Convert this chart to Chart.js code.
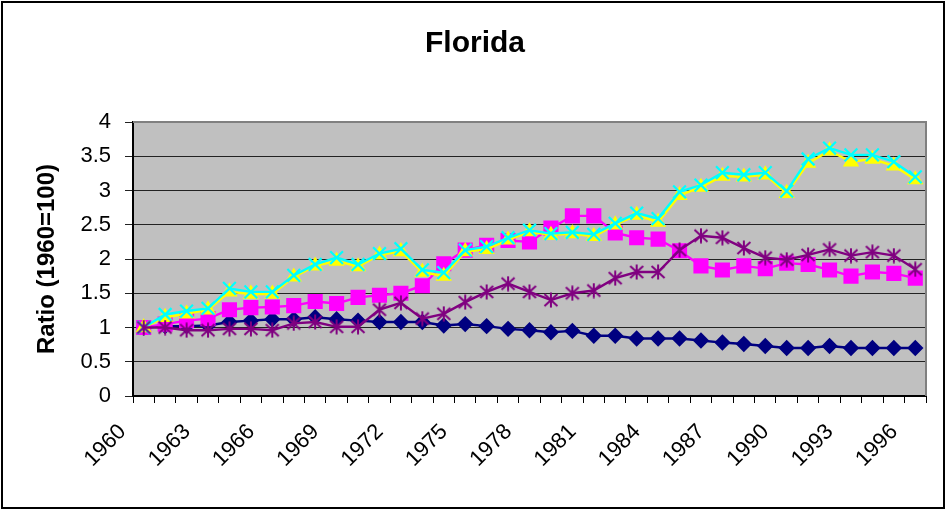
<!DOCTYPE html>
<html>
<head>
<meta charset="utf-8">
<title>Florida</title>
<script src="https://cdn.jsdelivr.net/npm/chart.js@4"></script>
<style>
    body { margin: 0; background: #fff; }
    #wrap { width: 946px; height: 510px; }
</style>
</head>
<body>
<div id="wrap"><canvas id="floridaChart" width="946" height="510"></canvas></div>
<script>
// Florida ratio chart (1960 = 1)

const years = ['1960', '1961', '1962', '1963', '1964', '1965', '1966', '1967', '1968', '1969',
    '1970', '1971', '1972', '1973', '1974', '1975', '1976', '1977', '1978', '1979',
    '1980', '1981', '1982', '1983', '1984', '1985', '1986', '1987', '1988', '1989',
    '1990', '1991', '1992', '1993', '1994', '1995', '1996'];

const xTickLabels = ['1960', '1963', '1966', '1969', '1972', '1975', '1978',
    '1981', '1984', '1987', '1990', '1993', '1996'];

const navySeries = [1.00, 1.02, 1.02, 1.03, 1.08, 1.10, 1.12, 1.12, 1.15, 1.12,
    1.10, 1.08, 1.08, 1.08, 1.03, 1.05, 1.02, 0.98, 0.96, 0.93,
    0.95, 0.88, 0.88, 0.84, 0.84, 0.84, 0.81, 0.78, 0.76, 0.73,
    0.70, 0.70, 0.73, 0.70, 0.70, 0.70, 0.70];

const magentaSeries = [1.00, 1.05, 1.10, 1.13, 1.26, 1.29, 1.30, 1.32, 1.38, 1.35,
    1.44, 1.47, 1.50, 1.61, 1.93, 2.13, 2.20, 2.27, 2.25, 2.45,
    2.63, 2.63, 2.38, 2.31, 2.29, 2.12, 1.90, 1.84, 1.90, 1.86,
    1.94, 1.92, 1.84, 1.75, 1.81, 1.79, 1.72];

const yellowSeries = [1.00, 1.15, 1.20, 1.26, 1.52, 1.49, 1.49, 1.74, 1.90, 1.97,
    1.89, 2.06, 2.11, 1.81, 1.75, 2.11, 2.14, 2.28, 2.40, 2.35,
    2.37, 2.33, 2.50, 2.64, 2.54, 2.93, 3.05, 3.21, 3.20, 3.23,
    2.96, 3.40, 3.58, 3.42, 3.46, 3.36, 3.16];

const cyanSeries = [1.00, 1.19, 1.24, 1.28, 1.57, 1.52, 1.52, 1.76, 1.92, 2.02,
    1.92, 2.08, 2.15, 1.84, 1.80, 2.13, 2.18, 2.31, 2.42, 2.37,
    2.39, 2.36, 2.52, 2.67, 2.59, 2.98, 3.08, 3.26, 3.23, 3.26,
    2.99, 3.46, 3.62, 3.52, 3.52, 3.42, 3.20];

const purpleSeries = [1.00, 1.00, 0.96, 0.96, 0.98, 0.98, 0.96, 1.06, 1.08, 1.01,
    1.01, 1.26, 1.36, 1.13, 1.20, 1.37, 1.52, 1.64, 1.52, 1.40,
    1.50, 1.54, 1.72, 1.81, 1.81, 2.13, 2.34, 2.31, 2.16, 2.02,
    1.99, 2.06, 2.14, 2.05, 2.10, 2.05, 1.85];

const chartTitle = 'Florida';
const FONT = "'Liberation Sans', Arial, sans-serif";

document.addEventListener('DOMContentLoaded', () => {
    drawChart();
});

// Excel style star marker: an X with a vertical bar
function makeStarMarker(color) {
    const c = document.createElement('canvas');
    c.width = 16;
    c.height = 16;
    const ctx = c.getContext('2d');
    ctx.strokeStyle = color;
    ctx.lineWidth = 2;
    ctx.beginPath();
    ctx.moveTo(1.5, 2); ctx.lineTo(14.5, 14);
    ctx.moveTo(14.5, 2); ctx.lineTo(1.5, 14);
    ctx.moveTo(8, 0.5); ctx.lineTo(8, 15.5);
    ctx.stroke();
    return c;
}

// grey plot background, outer frame, grey top/right edge of plot, title
const framePlugin = {
    id: 'framePlugin',
    beforeDraw(chart) {
        const { ctx, chartArea: a } = chart;
        ctx.save();
        ctx.fillStyle = '#ffffff';
        ctx.fillRect(0, 0, chart.width, chart.height);
        ctx.fillStyle = '#c0c0c0';
        ctx.fillRect(a.left, a.top, a.right - a.left, a.bottom - a.top);
        ctx.strokeStyle = '#000000';
        ctx.lineWidth = 2;
        ctx.strokeRect(2, 2, chart.width - 4, chart.height - 4);

        ctx.fillStyle = '#000';
        ctx.font = 'bold 30px ' + FONT;
        ctx.textAlign = 'center';
        ctx.textBaseline = 'alphabetic';
        ctx.fillText(chartTitle, 475, 52);
        ctx.restore();
    },
    beforeDatasetsDraw(chart) {
        const { ctx, chartArea: a } = chart;
        ctx.save();
        ctx.strokeStyle = '#808080';
        ctx.lineWidth = 2;
        ctx.beginPath();
        ctx.moveTo(a.left, a.top);
        ctx.lineTo(a.right, a.top);
        ctx.lineTo(a.right, a.bottom);
        ctx.stroke();
        ctx.restore();
    }
};

function drawChart() {
    const ctx = document.getElementById('floridaChart');

    new Chart(ctx, {
        type: 'line',
        data: {
            labels: years,
            datasets: [
                {
                    data: navySeries,
                    borderColor: '#000080',
                    backgroundColor: '#000080',
                    borderWidth: 2.4,
                    pointStyle: 'rectRot',
                    pointRadius: 6.5,
                    order: 5
                },
                {
                    data: magentaSeries,
                    borderColor: '#ff00ff',
                    backgroundColor: '#ff00ff',
                    borderWidth: 2.4,
                    pointStyle: 'rect',
                    pointRadius: 9,
                    order: 4
                },
                {
                    data: yellowSeries,
                    borderColor: '#ffff00',
                    backgroundColor: '#ffff00',
                    borderWidth: 2.4,
                    pointStyle: 'triangle',
                    pointRadius: 7,
                    order: 3
                },
                {
                    data: cyanSeries,
                    borderColor: '#00ffff',
                    backgroundColor: '#00ffff',
                    borderWidth: 2.4,
                    pointStyle: 'crossRot',
                    pointRadius: 9,
                    pointBorderWidth: 2.2,
                    order: 2
                },
                {
                    data: purpleSeries,
                    borderColor: '#800080',
                    backgroundColor: '#800080',
                    borderWidth: 2.4,
                    pointStyle: makeStarMarker('#800080'),
                    order: 1
                }
            ]
        },
        options: {
            responsive: false,
            animation: false,
            layout: {
                padding: { left: 0, right: 20, top: 122, bottom: 0 }
            },
            elements: {
                line: { tension: 0 }
            },
            plugins: {
                legend: { display: false },
                tooltip: { enabled: false },
                title: { display: false }
            },
            scales: {
                x: {
                    type: 'category',
                    offset: true,
                    afterFit: (scale) => {
                        scale.height = 114;
                        scale.paddingLeft = 0;
                        scale.paddingRight = 0;
                    },
                    border: { display: true, color: '#000', width: 2 },
                    grid: {
                        offset: true,
                        drawOnChartArea: false,
                        color: '#000',
                        tickLength: 7
                    },
                    ticks: {
                        autoSkip: false,
                        maxRotation: 45,
                        minRotation: 45,
                        labelOffset: -21,
                        padding: 16,
                        color: '#000',
                        font: { family: FONT, size: 22 },
                        callback: function (value) {
                            const label = this.getLabelForValue(value);
                            return xTickLabels.includes(label) ? label : '';
                        }
                    }
                },
                y: {
                    min: 0,
                    max: 4,
                    afterFit: (scale) => {
                        scale.width = 133;
                        scale.paddingTop = 0;
                        scale.paddingBottom = 0;
                    },
                    border: { display: true, color: '#000', width: 2 },
                    grid: {
                        color: '#222',
                        lineWidth: 1,
                        tickLength: 8
                    },
                    ticks: {
                        stepSize: 0.5,
                        padding: 14,
                        color: '#000',
                        font: { family: FONT, size: 22 },
                        callback: (value) => String(value)
                    },
                    title: {
                        display: true,
                        text: 'Ratio (1960=100)',
                        color: '#000',
                        font: { family: FONT, size: 24, weight: 'bold' },
                        padding: { top: 33, bottom: 0 }
                    }
                }
            }
        },
        plugins: [framePlugin]
    });
}
</script>
</body>
</html>
